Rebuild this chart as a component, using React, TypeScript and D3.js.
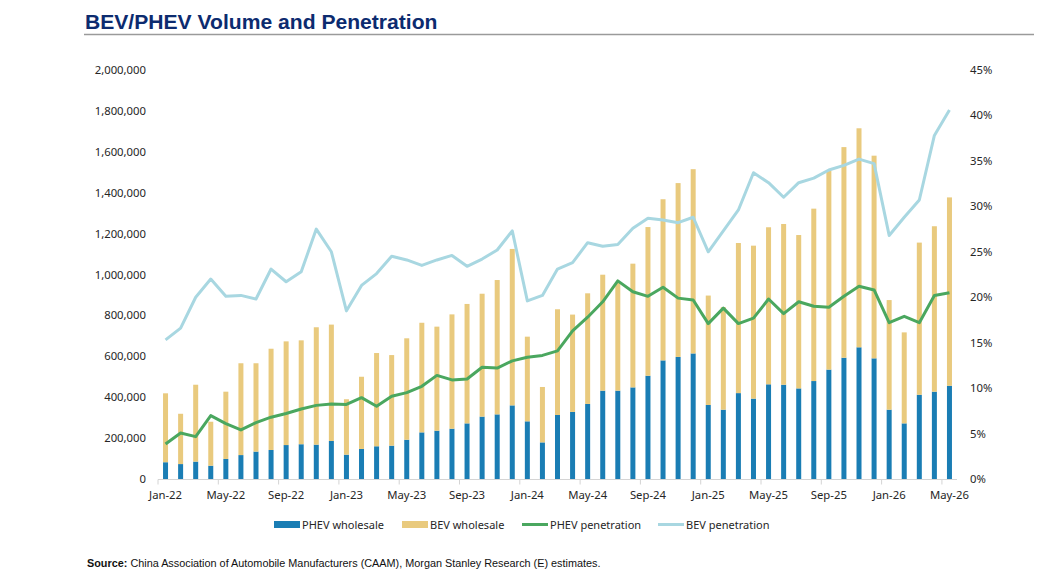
import React from "react";
import * as d3 from "d3";

const months = [
  "Jan-22","Feb-22","Mar-22","Apr-22","May-22","Jun-22","Jul-22","Aug-22","Sep-22","Oct-22","Nov-22","Dec-22",
  "Jan-23","Feb-23","Mar-23","Apr-23","May-23","Jun-23","Jul-23","Aug-23","Sep-23","Oct-23","Nov-23","Dec-23",
  "Jan-24","Feb-24","Mar-24","Apr-24","May-24","Jun-24","Jul-24","Aug-24","Sep-24","Oct-24","Nov-24","Dec-24",
  "Jan-25","Feb-25","Mar-25","Apr-25","May-25","Jun-25","Jul-25","Aug-25","Sep-25","Oct-25","Nov-25","Dec-25",
  "Jan-26","Feb-26","Mar-26","Apr-26","May-26",
];

const phevWholesale = [
  82000, 73000, 85000, 65000, 98000, 117000, 134000, 142000, 166000, 170000, 168000, 186000,
  119000, 147000, 160000, 163000, 192000, 228000, 236000, 246000, 272000, 305000, 316000, 360000,
  282000, 179000, 313000, 328000, 367000, 432000, 432000, 448000, 505000, 580000, 597000, 614000,
  362000, 339000, 420000, 393000, 463000, 461000, 443000, 479000, 535000, 593000, 644000, 590000,
  339000, 272000, 412000, 427000, 456000,
];

const bevWholesale = [
  337000, 246000, 376000, 215000, 329000, 449000, 432000, 495000, 507000, 508000, 574000, 569000,
  271000, 353000, 456000, 443000, 496000, 536000, 509000, 559000, 584000, 601000, 657000, 765000,
  414000, 271000, 517000, 476000, 541000, 567000, 530000, 605000, 727000, 788000, 850000, 901000,
  535000, 501000, 734000, 748000, 768000, 786000, 750000, 843000, 973000, 1030000, 1071000, 991000,
  536000, 445000, 744000, 809000, 921000,
];

const phevPenetration = [
  3.85, 5.06, 4.66, 6.97, 6.1, 5.4, 6.2, 6.8, 7.2, 7.7, 8.1, 8.25,
  8.2, 8.95, 8.0, 9.1, 9.5, 10.2, 11.4, 10.9, 11.0, 12.3, 12.2, 13.0,
  13.4, 13.6, 14.1, 16.3, 17.8, 19.5, 21.8, 20.6, 20.1, 21.1, 19.9, 19.7,
  17.1, 18.8, 17.1, 17.7, 19.8, 18.2, 19.5, 19.0, 18.9, 20.1, 21.2, 20.8,
  17.2, 17.9, 17.2, 20.2, 20.5,
];

const bevPenetration = [
  15.3, 16.6, 20.0, 22.0, 20.1, 20.2, 19.8, 23.1, 21.7, 22.8, 27.5, 25.0,
  18.5, 21.3, 22.6, 24.5, 24.1, 23.5, 24.1, 24.6, 23.4, 24.2, 25.2, 27.3,
  19.6, 20.2, 23.1, 23.8, 26.0, 25.6, 25.8, 27.6, 28.7, 28.5, 28.2, 28.8,
  25.0, 27.3, 29.6, 33.7, 32.6, 31.0, 32.6, 33.1, 34.0, 34.5, 35.2, 34.7,
  26.8, 28.8, 30.7, 37.8, 40.6,
];

const leftTicks = [0, 200000, 400000, 600000, 800000, 1000000, 1200000, 1400000, 1600000, 1800000, 2000000];
const rightTicks = [0, 5, 10, 15, 20, 25, 30, 35, 40, 45];

const legendItems = [
  { label: "PHEV wholesale", kind: "bar", color: "#1a7db4" },
  { label: "BEV wholesale", kind: "bar", color: "#e9ca7e" },
  { label: "PHEV penetration", kind: "line", color: "#4aa75f" },
  { label: "BEV penetration", kind: "line", color: "#a8d7e1" },
];

const PHEV_COLOR = "#1a7db4";
const BEV_COLOR = "#e9ca7e";
const PHEV_LINE = "#4aa75f";
const BEV_LINE = "#a8d7e1";
const TEXT = "#262626";
const FONT = "'Noto Sans', 'Liberation Sans', sans-serif";

export default function App() {
  const W = 1064, H = 578;
  const x = d3.scaleBand<string>().domain(months).range([158, 957]).padding(0);
  const yL = d3.scaleLinear().domain([0, 2000000]).range([479, 70]);
  const yR = d3.scaleLinear().domain([0, 45]).range([479, 70]);
  const barW = 5;
  const cx = (m: string) => (x(m) as number) + x.bandwidth() / 2;

  const lineGen = (vals: number[]) =>
    d3.line<number>().x((_, i) => cx(months[i])).y((v) => yR(v))(vals) as string;

  const fmt = d3.format(",");

  const legendX = [274, 402, 522, 658];

  return (
    <svg width={W} height={H} style={{ position: "absolute", left: 0, top: 0, background: "#fff" }} fontFamily={FONT}>
      <text x={85} y={29} fontFamily="'Liberation Sans', Arial, sans-serif" fontWeight="bold" fontSize={21.1} fill="#0c2b6f">
        BEV/PHEV Volume and Penetration
      </text>
      <line x1={84} x2={1034} y1={34.5} y2={34.5} stroke="#9a9a9a" strokeWidth={1.5} />

      {/* left axis labels */}
      {leftTicks.map((t) => (
        <text key={"l" + t} x={146} y={yL(t) + 4} textAnchor="end" fontSize={11.3} fill={TEXT}>
          {fmt(t)}
        </text>
      ))}
      {/* right axis labels */}
      {rightTicks.map((t) => (
        <text key={"r" + t} x={970} y={yR(t) + 4} textAnchor="start" fontSize={11.3} fill={TEXT}>
          {t + "%"}
        </text>
      ))}

      {/* bars */}
      {months.map((m, i) => {
        const bx = cx(m) - barW / 2;
        const p = phevWholesale[i];
        const b = bevWholesale[i];
        return (
          <g key={m}>
            <rect x={bx} width={barW} y={yL(p)} height={yL(0) - yL(p)} fill={PHEV_COLOR} />
            <rect x={bx} width={barW} y={yL(p + b)} height={yL(p) - yL(p + b)} fill={BEV_COLOR} />
          </g>
        );
      })}

      {/* x axis */}
      <line x1={158} x2={957} y1={479.5} y2={479.5} stroke="#d4d4d4" strokeWidth={1} />
      {months.map((m, i) =>
        i % 4 === 0 ? (
          <g key={"t" + m}>
            <line x1={(x(m) as number)} x2={(x(m) as number)} y1={479.5} y2={484.5} stroke="#d4d4d4" strokeWidth={1} />
            <text x={cx(m)} y={499} textAnchor="middle" fontSize={11.3} fill={TEXT}>
              {m}
            </text>
          </g>
        ) : null
      )}

      {/* lines */}
      <path d={lineGen(bevPenetration)} fill="none" stroke={BEV_LINE} strokeWidth={3} strokeLinejoin="round" />
      <path d={lineGen(phevPenetration)} fill="none" stroke={PHEV_LINE} strokeWidth={3} strokeLinejoin="round" />

      {/* legend */}
      {legendItems.map((it, i) => (
        <g key={it.label}>
          {it.kind === "bar" ? (
            <rect x={legendX[i]} y={521} width={26} height={7} fill={it.color} />
          ) : (
            <line x1={legendX[i]} x2={legendX[i] + 26} y1={524.5} y2={524.5} stroke={it.color} strokeWidth={3} />
          )}
          <text x={legendX[i] + 28} y={528.5} fontSize={11} fill={TEXT}>
            {it.label}
          </text>
        </g>
      ))}

      {/* source */}
      <text x={87} y={567} fontFamily="'Liberation Sans', Arial, sans-serif" fontSize={10.85} fill="#111">
        <tspan fontWeight="bold">Source:</tspan>
        <tspan> China Association of Automobile Manufacturers (CAAM), Morgan Stanley Research (E) estimates.</tspan>
      </text>
    </svg>
  );
}
